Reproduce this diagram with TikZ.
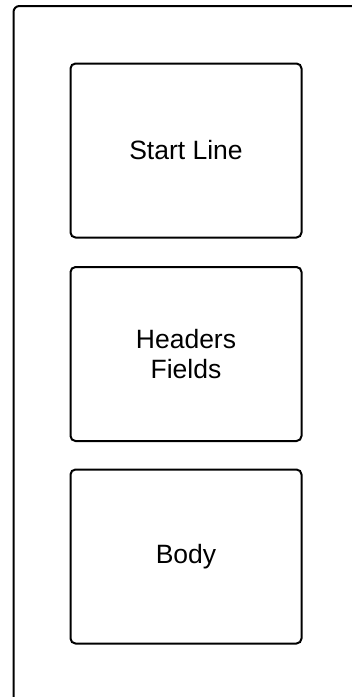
\documentclass[tikz,border=0pt]{standalone}
\usepackage{fontspec}
\setmainfont{Liberation Sans}
\begin{document}
\begin{tikzpicture}[x=1pt,y=-1pt,
  part/.style={draw=black,line width=2pt,rounded corners=5pt,minimum width=231pt,minimum height=174pt,align=center,font=\fontsize{26.5}{30}\selectfont,inner sep=0pt},
  frame/.style={draw=black,line width=2pt,rounded corners=6pt}]
\useasboundingbox (0,0) rectangle (352,697);
\clip (0,0) rectangle (352,697);
\draw[frame] (13.5,6) rectangle (420,760);
\node[part] (start) at (186,150.5) {Start Line};
\node[part] (headers) at (186,354) {Headers\\Fields};
\node[part] (body) at (186,556.5) {Body};
\end{tikzpicture}
\end{document}
